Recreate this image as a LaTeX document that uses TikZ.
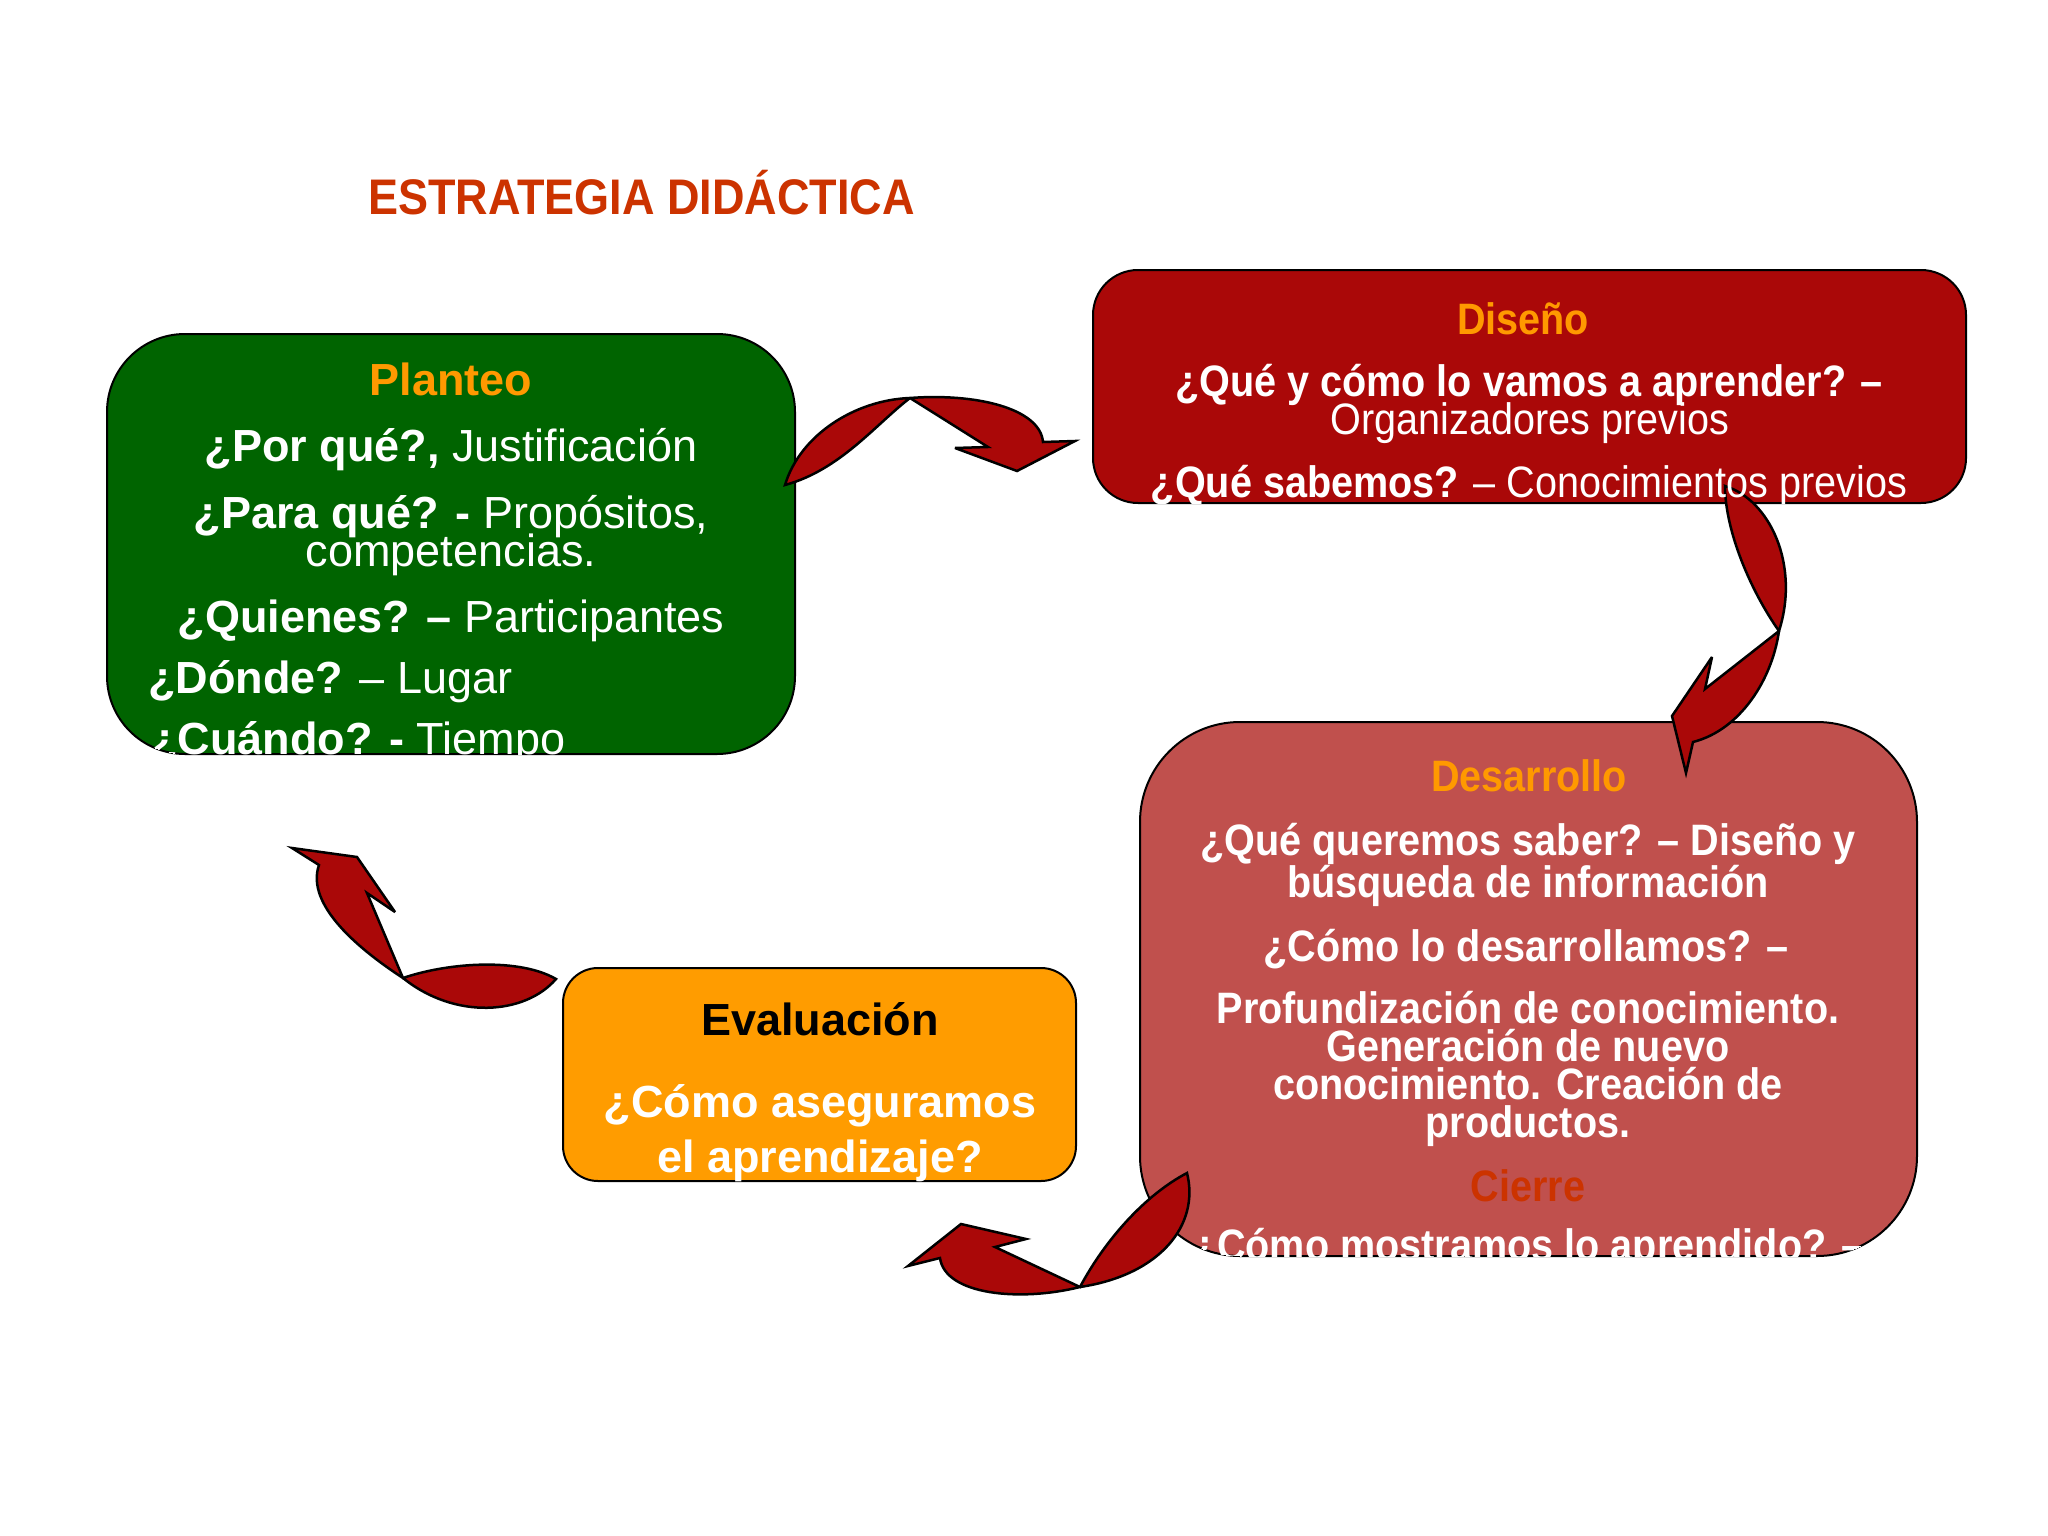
\documentclass[tikz,border=0pt]{standalone}
\usepackage{fontspec}
\setmainfont{Liberation Sans}
\newfontfamily\narrowsf[FakeStretch=0.9]{Liberation Sans}
\definecolor{titlecol}{RGB}{204,51,0}
\definecolor{headcol}{RGB}{255,153,0}
\definecolor{planteocol}{RGB}{0,100,0}
\definecolor{disenocol}{RGB}{170,8,8}
\definecolor{desarrollocol}{RGB}{192,80,77}
\definecolor{evalcol}{RGB}{255,156,0}
\definecolor{arrowcol}{RGB}{170,8,8}
\begin{document}
\begin{tikzpicture}[x=1pt,y=-1pt,line join=miter,miter limit=5,
  box/.style={draw=black,line width=2pt,inner sep=0pt,outer sep=0pt},
  widetxt/.style={text=white,inner sep=0pt,anchor=base,font=\fontsize{45}{54}\selectfont},
  narrowtxt/.style={text=white,inner sep=0pt,anchor=base,font=\narrowsf\fontsize{44}{52}\selectfont},
  curvearrow/.style={fill=arrowcol,draw=black,line width=2.5pt}]
  \fill[white] (0,0) rectangle (2048,1536);
  \useasboundingbox (0,0) rectangle (2048,1536);
%%
  % Title
  \node[anchor=base west,inner sep=0pt,text=titlecol,font=\narrowsf\bfseries\fontsize{50}{60}\selectfont] (titulo) at (368,214) {ESTRATEGIA DIDÁCTICA};
  % Node: Planteo
  \node[box,fill=planteocol,minimum width=688pt,minimum height=420pt,rounded corners=78pt] (planteo) at (451,544) {};
  % Node: Diseno
  \node[box,fill=disenocol,minimum width=873pt,minimum height=233pt,rounded corners=45pt] (diseno) at (1529.5,386.5) {};
  % Node: Desarrollo
  \node[box,fill=desarrollocol,minimum width=777pt,minimum height=534pt,rounded corners=100pt] (desarrollo) at (1528.5,989) {};
  % Node: Evaluacion
  \node[box,fill=evalcol,minimum width=513pt,minimum height=213pt,rounded corners=35pt] (evaluacion) at (819.5,1074.5) {};
  % Edge: Planteo -> Diseno
  \draw[curvearrow] (785,485) .. controls (800,435) and (855,400) .. (910,398)
    .. controls (975,393) and (1040,408) .. (1043,442)
    -- (1075,441) -- (1017,471) -- (955,448) -- (988,447) -- (910,398)
    .. controls (875,425) and (840,470) .. (785,485) -- cycle;
  % Edge: Diseno -> Desarrollo
  \draw[curvearrow] (1725,486) .. controls (1770,500) and (1800,565) .. (1779,631)
    .. controls (1772,680) and (1740,730) .. (1693,742)
    -- (1686,773) -- (1672,716) -- (1712,657) -- (1705,689) -- (1779,631)
    .. controls (1750,590) and (1725,530) .. (1725,486) -- cycle;
  % Edge: Desarrollo -> Evaluacion
  \draw[curvearrow] (1187,1173) .. controls (1200,1225) and (1160,1275) .. (1080,1287)
    .. controls (1020,1302) and (945,1295) .. (940,1258)
    -- (908,1266) -- (961,1224) -- (1026,1239) -- (995,1247) -- (1080,1287)
    .. controls (1105,1240) and (1145,1195) .. (1187,1173) -- cycle;
  % Edge: Evaluacion -> Planteo
  \draw[curvearrow] (556,979) .. controls (525,1015) and (455,1020) .. (403,978)
    .. controls (360,950) and (305,905) .. (319,865)
    -- (292,848) -- (357,857) -- (395,912) -- (367,893) -- (403,978)
    .. controls (450,962) and (520,958) .. (556,979) -- cycle;
  % Text: Planteo
\begin{scope}
  \clip[rounded corners=78pt] (planteo.south west) rectangle (planteo.north east);
  \node[widetxt,text=headcol,font=\bfseries\fontsize{45}{54}\selectfont] (planteo-head) at (451,395) {Planteo};
  \node[widetxt] (planteo-a) at (451,461) {\textbf{¿Por qué?,} Justificación};
  \node[widetxt] (planteo-b) at (451,528) {\textbf{¿Para qué? -} Propósitos,};
  \node[widetxt] (planteo-c) at (451,566) {competencias.};
  \node[widetxt] (planteo-d) at (451,632) {\textbf{¿Quienes? –} Participantes};
  \node[widetxt,anchor=base west] (planteo-e) at (148,693) {\textbf{¿Dónde?} – Lugar};
  \node[widetxt,anchor=base west] (planteo-f) at (150,754) {\textbf{¿Cuándo? -} Tiempo};
\end{scope}
  % Text: Diseno
\begin{scope}
  \clip[rounded corners=45pt] (diseno.south west) rectangle (diseno.north east);
  \node[narrowtxt,text=headcol,font=\narrowsf\bfseries\fontsize{44}{52}\selectfont] (diseno-head) at (1523,334) {Diseño};
  \node[narrowtxt,font=\narrowsf\bfseries\fontsize{44}{52}\selectfont] (diseno-a) at (1529,396) {¿Qué y cómo lo vamos a aprender? –};
  \node[narrowtxt] (diseno-b) at (1530,434) {Organizadores previos};
  \node[narrowtxt] (diseno-c) at (1529,497) {\textbf{¿Qué sabemos?} – Conocimientos previos};
\end{scope}
  % Text: Desarrollo
\begin{scope}
  \clip[rounded corners=100pt] (desarrollo.south west) rectangle (desarrollo.north east);
  \begin{scope}[every node/.append style={narrowtxt,font=\narrowsf\bfseries\fontsize{44}{52}\selectfont}]
  \node[text=headcol] (desarrollo-head) at (1529,791) {Desarrollo};
  \node (desarrollo-a) at (1528,855) {¿Qué queremos saber? – Diseño y};
  \node (desarrollo-b) at (1528,897) {búsqueda de información};
  \node (desarrollo-c) at (1526,961) {¿Cómo lo desarrollamos? –};
  \node (desarrollo-d) at (1528,1023) {Profundización de conocimiento.};
  \node (desarrollo-e) at (1528,1061) {Generación de nuevo};
  \node (desarrollo-f) at (1528,1099) {conocimiento. Creación de};
  \node (desarrollo-g) at (1528,1137) {productos.};
  \node[text=titlecol] (cierre-head) at (1528,1201) {Cierre};
  \node (cierre-a) at (1528,1260) {¿Cómo mostramos lo aprendido? –};
  \end{scope}
\end{scope}
  % Text: Evaluacion
\begin{scope}
  \clip[rounded corners=35pt] (evaluacion.south west) rectangle (evaluacion.north east);
  \node[widetxt,text=black,font=\bfseries\fontsize{45}{54}\selectfont] (evaluacion-head) at (820,1035) {Evaluación};
  \node[widetxt,font=\bfseries\fontsize{45}{54}\selectfont] (evaluacion-a) at (820,1117) {¿Cómo aseguramos};
  \node[widetxt,font=\bfseries\fontsize{45}{54}\selectfont] (evaluacion-b) at (820,1172) {el aprendizaje?};
\end{scope}
%
\end{tikzpicture}
\end{document}
